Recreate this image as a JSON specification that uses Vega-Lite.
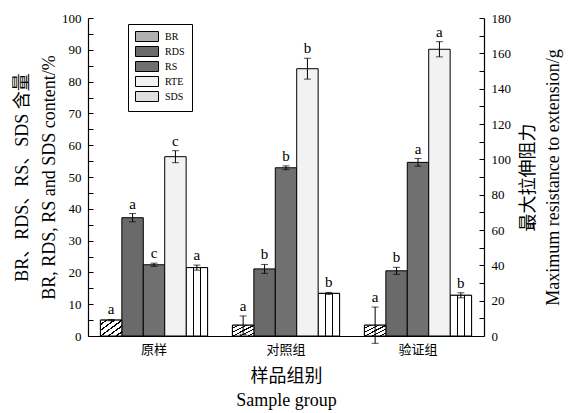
{
  "$schema": "https://vega.github.io/schema/vega-lite/v6.json",
  "width": 396,
  "height": 318,
  "autosize": {"type": "none"},
  "padding": {"left": 88, "top": 18, "right": 90, "bottom": 77},
  "background": "white",
  "config": {
    "view": {"stroke": null},
    "font": "'Liberation Serif', 'Noto Sans CJK SC', serif",
    "axis": {
      "labelFont": "'Liberation Serif', 'Noto Sans CJK SC', serif",
      "titleFont": "'Liberation Serif', 'Noto Sans CJK SC', serif",
      "labelColor": "black", "titleColor": "black", "domainColor": "black", "tickColor": "black",
      "labelFontSize": 13, "titleFontSize": 18, "titleFontWeight": "normal",
      "grid": false, "tickSize": -5, "domainWidth": 1.2, "tickWidth": 1
    },
    "legend": {
      "labelFont": "'Liberation Serif', 'Noto Sans CJK SC', serif"
    }
  },
  "data": {"values": [
    {"group": "原样", "series": "BR", "v": 5.0, "err": 0.2, "letter": "a"},
    {"group": "原样", "series": "RDS", "v": 37.2, "err": 1.3, "letter": "a"},
    {"group": "原样", "series": "RS", "v": 22.4, "err": 0.5, "letter": "c"},
    {"group": "原样", "series": "RTE", "v": 101.5, "err": 3.4, "letter": "c"},
    {"group": "原样", "series": "SDS", "v": 21.5, "err": 0.8, "letter": "a"},
    {"group": "对照组", "series": "BR", "v": 3.4, "err": 2.9, "letter": "a"},
    {"group": "对照组", "series": "RDS", "v": 21.1, "err": 1.4, "letter": "b"},
    {"group": "对照组", "series": "RS", "v": 52.9, "err": 0.6, "letter": "b"},
    {"group": "对照组", "series": "RTE", "v": 151.3, "err": 5.9, "letter": "b"},
    {"group": "对照组", "series": "SDS", "v": 13.4, "err": 0.3, "letter": "b"},
    {"group": "验证组", "series": "BR", "v": 3.4, "err": 5.7, "letter": "a"},
    {"group": "验证组", "series": "RDS", "v": 20.5, "err": 1.1, "letter": "b"},
    {"group": "验证组", "series": "RS", "v": 54.6, "err": 1.2, "letter": "a"},
    {"group": "验证组", "series": "RTE", "v": 162.3, "err": 4.3, "letter": "a"},
    {"group": "验证组", "series": "SDS", "v": 12.8, "err": 0.8, "letter": "b"}
  ]},
  "transform": [
    {"calculate": "datum.v - datum.err", "as": "lo"},
    {"calculate": "datum.v + datum.err", "as": "hi"}
  ],
  "encoding": {
    "x": {"field": "group", "type": "nominal", "sort": ["原样", "对照组", "验证组"],
      "scale": {"paddingInner": 0, "paddingOuter": 0},
      "axis": {"title": ["样品组别", "Sample group"], "labelAngle": 0, "labelPadding": 12, "titlePadding": 11, "titleLineHeight": 24, "titleFontSize": 18}},
    "xOffset": {"field": "series", "type": "nominal", "sort": ["BR", "RDS", "RS", "RTE", "SDS"],
      "scale": {"domain": ["BR", "RDS", "RS", "RTE", "SDS"], "paddingInner": 0, "paddingOuter": 0.58}}
  },
  "layer": [
    {
      "transform": [{"filter": "datum.series !== 'RTE'"}],
      "encoding": {
        "y": {"field": "v", "type": "quantitative",
          "scale": {"domain": [0, 100], "nice": false},
          "axis": {"orient": "left", "title": ["BR、RDS、RS、SDS 含量", "BR, RDS, RS and SDS content/%"],
            "titleLineHeight": 27, "titlePadding": 3,
            "values": [0,5,10,15,20,25,30,35,40,45,50,55,60,65,70,75,80,85,90,95,100],
            "labelExpr": "datum.value % 10 === 0 ? datum.label : ''",
            "labelPadding": 12,
            "encode": {"ticks": {"x2": {"value": {"expr": "datum.value % 10 === 0 ? 6 : 3"}}}}}}
      },
      "layer": [
        {"mark": {"type": "bar", "stroke": "black", "strokeWidth": 1},
         "encoding": {"fill": {"field": "series", "type": "nominal",
           "scale": {"domain": ["BR", "RDS", "RS", "RTE", "SDS"], "range": ["#b0b0b0", "#6a6a6a", "#707070", "#f2f2f2", "#e0e0e0"]},
           "legend": {"orient": "none", "legendX": 40, "legendY": 6, "title": null, "direction": "vertical",
             "strokeColor": "black", "padding": 7, "fillColor": "white",
             "symbolType": "M-1,-1H3.6V1H-1Z", "symbolSize": 100,
             "symbolStrokeColor": "black", "symbolStrokeWidth": 1, "symbolOpacity": 1,
             "labelFontSize": 10, "labelColor": "black", "rowPadding": 0, "labelOffset": 19}}}},
        {"transform": [{"filter": "datum.series === 'BR'"}],
         "mark": {"type": "bar", "stroke": "black", "strokeWidth": 1,
           "fill": {"gradient": "linear", "x1": 0, "y1": 0, "x2": 1, "y2": 1, "stops": [
            {"offset": 0, "color": "white"}, {"offset": 0.12, "color": "white"}, {"offset": 0.12, "color": "black"}, {"offset": 0.17, "color": "black"},
            {"offset": 0.17, "color": "white"}, {"offset": 0.3, "color": "white"}, {"offset": 0.3, "color": "black"}, {"offset": 0.35, "color": "black"},
            {"offset": 0.35, "color": "white"}, {"offset": 0.48, "color": "white"}, {"offset": 0.48, "color": "black"}, {"offset": 0.53, "color": "black"},
            {"offset": 0.53, "color": "white"}, {"offset": 0.66, "color": "white"}, {"offset": 0.66, "color": "black"}, {"offset": 0.71, "color": "black"},
            {"offset": 0.71, "color": "white"}, {"offset": 0.84, "color": "white"}, {"offset": 0.84, "color": "black"}, {"offset": 0.89, "color": "black"},
            {"offset": 0.89, "color": "white"}, {"offset": 1, "color": "white"}]}}},
        {"transform": [{"filter": "datum.series === 'SDS'"}],
         "mark": {"type": "bar", "stroke": "black", "strokeWidth": 1,
           "fill": {"gradient": "linear", "x1": 0, "y1": 0, "x2": 1, "y2": 0, "stops": [
            {"offset": 0, "color": "white"}, {"offset": 0.31, "color": "white"}, {"offset": 0.31, "color": "black"}, {"offset": 0.36, "color": "black"},
            {"offset": 0.36, "color": "white"}, {"offset": 0.64, "color": "white"}, {"offset": 0.64, "color": "black"}, {"offset": 0.69, "color": "black"},
            {"offset": 0.69, "color": "white"}, {"offset": 1, "color": "white"}]}}},
        {"mark": {"type": "rule", "color": "black", "strokeWidth": 1},
         "encoding": {"y": {"field": "lo", "type": "quantitative"}, "y2": {"field": "hi"}}},
        {"mark": {"type": "tick", "color": "black", "size": 7, "thickness": 1},
         "encoding": {"y": {"field": "hi", "type": "quantitative"}}},
        {"mark": {"type": "tick", "color": "black", "size": 7, "thickness": 1},
         "encoding": {"y": {"field": "lo", "type": "quantitative"}}},
        {"mark": {"type": "text", "fontSize": 15, "baseline": "bottom", "dy": -2, "color": "black"},
         "encoding": {"y": {"field": "hi", "type": "quantitative"}, "text": {"field": "letter"}}}
      ]
    },
    {
      "transform": [{"filter": "datum.series === 'RTE'"}],
      "encoding": {
        "y": {"field": "v", "type": "quantitative",
          "scale": {"domain": [0, 180], "nice": false},
          "axis": {"orient": "right", "title": ["最大拉伸阻力", "Maximum resistance to extension/g"],
            "titleAngle": -90, "titleLineHeight": 25, "titlePadding": 2,
            "values": [0,10,20,30,40,50,60,70,80,90,100,110,120,130,140,150,160,170,180],
            "labelExpr": "datum.value % 20 === 0 ? datum.label : ''",
            "labelPadding": 12,
            "encode": {"ticks": {"x2": {"value": {"expr": "datum.value % 20 === 0 ? -6 : -3"}}}}}}
      },
      "layer": [
        {"mark": {"type": "bar", "stroke": "black", "strokeWidth": 1},
         "encoding": {"fill": {"field": "series", "type": "nominal"}}},
        {"mark": {"type": "rule", "color": "black", "strokeWidth": 1},
         "encoding": {"y": {"field": "lo", "type": "quantitative"}, "y2": {"field": "hi"}}},
        {"mark": {"type": "tick", "color": "black", "size": 7, "thickness": 1},
         "encoding": {"y": {"field": "hi", "type": "quantitative"}}},
        {"mark": {"type": "tick", "color": "black", "size": 7, "thickness": 1},
         "encoding": {"y": {"field": "lo", "type": "quantitative"}}},
        {"mark": {"type": "text", "fontSize": 15, "baseline": "bottom", "dy": -2, "color": "black"},
         "encoding": {"y": {"field": "hi", "type": "quantitative"}, "text": {"field": "letter"}}}
      ]
    }
  ],
  "resolve": {"scale": {"y": "independent", "fill": "shared"}, "axis": {"y": "independent"}}
}
